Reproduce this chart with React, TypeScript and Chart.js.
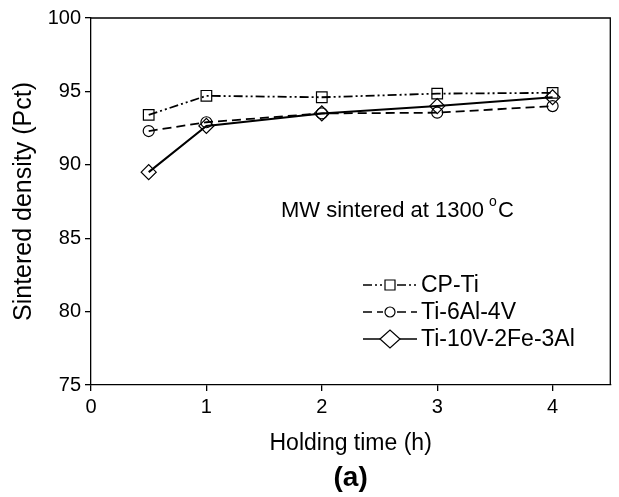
import React, { useEffect, useRef } from "react";
import { Chart, registerables } from "chart.js";

Chart.register(...registerables);

const hours = [0.5, 1, 2, 3, 4];
const cpTi = [93.4, 94.7, 94.6, 94.85, 94.9];
const ti64 = [92.3, 92.9, 93.5, 93.55, 94.0];
const ti1023 = [89.5, 92.65, 93.5, 94.0, 94.6];

const seriesNames = ["CP-Ti", "Ti-6Al-4V", "Ti-10V-2Fe-3Al"];
const xTitle = "Holding time (h)";
const yTitle = "Sintered density (Pct)";
const annotation = "MW sintered at 1300 ";
const panelLabel = "(a)";

const FONT = "'Liberation Sans', Arial, sans-serif";

const dashes = [[9, 3, 2, 3, 2, 3], [9, 5], []];
const shapes = ["rect", "circle", "rectRot"];
const radii = [7.5, 5.5, 7.5];

const decorPlugin = {
  id: "decor",
  afterDraw(chart: any) {
    const { ctx, chartArea } = chart;
    const { left, right, top, bottom } = chartArea;
    ctx.save();
    ctx.strokeStyle = "#000";
    ctx.lineWidth = 1.3;
    ctx.beginPath();
    ctx.moveTo(left, top);
    ctx.lineTo(right, top);
    ctx.lineTo(right, bottom);
    ctx.stroke();

    ctx.fillStyle = "#000";
    // axis titles
    ctx.font = `23px ${FONT}`;
    ctx.textAlign = "center";
    ctx.textBaseline = "middle";
    ctx.fillText(xTitle, (left + right) / 2, 444);
    ctx.save();
    ctx.translate(24, (top + bottom) / 2);
    ctx.rotate(-Math.PI / 2);
    ctx.font = `25px ${FONT}`;
    ctx.fillText(yTitle, 0, 0);
    ctx.restore();

    ctx.font = `bold 28px ${FONT}`;
    ctx.fillText(panelLabel, (left + right) / 2, 478);

    // annotation
    ctx.font = `22px ${FONT}`;
    ctx.textAlign = "left";
    ctx.textBaseline = "middle";
    const ax = 281;
    const ay = 211;
    ctx.fillText(annotation, ax, ay);
    const w = ctx.measureText(annotation).width;
    ctx.font = `14px ${FONT}`;
    ctx.fillText("o", ax + w - 1, ay - 9);
    const ow = ctx.measureText("o").width;
    ctx.font = `22px ${FONT}`;
    ctx.fillText("C", ax + w + ow, ay);

    // legend
    const rows = [285, 312, 339];
    const lx0 = 363;
    const lx1 = 417;
    const mx = 390;
    rows.forEach((ry, i) => {
      ctx.setLineDash(dashes[i]);
      ctx.lineWidth = 1.5;
      ctx.beginPath();
      ctx.moveTo(lx0, ry);
      ctx.lineTo(mx - (i === 2 ? 10 : 7), ry);
      ctx.moveTo(mx + (i === 2 ? 10 : 7), ry);
      ctx.lineTo(lx1, ry);
      ctx.stroke();
      ctx.setLineDash([]);
      ctx.lineWidth = 1.2;
      ctx.beginPath();
      if (i === 0) {
        ctx.rect(mx - 5, ry - 5, 10, 10);
      } else if (i === 1) {
        ctx.arc(mx, ry, 5, 0, Math.PI * 2);
      } else {
        ctx.moveTo(mx - 10, ry);
        ctx.lineTo(mx, ry - 9);
        ctx.lineTo(mx + 10, ry);
        ctx.lineTo(mx, ry + 9);
        ctx.closePath();
      }
      ctx.stroke();
      ctx.font = `23px ${FONT}`;
      ctx.fillText(seriesNames[i], 421, ry + 1);
    });
    ctx.restore();
  },
};

export default function App() {
  const ref = useRef<HTMLCanvasElement>(null);
  useEffect(() => {
    const values = [cpTi, ti64, ti1023];
    const chart = new Chart(ref.current as HTMLCanvasElement, {
      type: "line",
      data: {
        datasets: values.map((vals, i) => ({
          label: seriesNames[i],
          data: hours.map((h, j) => ({ x: h, y: vals[j] })),
          borderColor: "#000",
          backgroundColor: "rgba(0,0,0,0)",
          borderWidth: i === 2 ? 2 : 1.8,
          borderDash: dashes[i],
          pointStyle: shapes[i] as any,
          pointRadius: radii[i],
          pointBorderWidth: 1.2,
          pointBorderColor: "#000",
          pointBackgroundColor: "rgba(0,0,0,0)",
          fill: false,
          tension: 0,
        })),
      },
      options: {
        animation: false,
        responsive: false,
        maintainAspectRatio: false,
        layout: { padding: { top: 18, right: 6, left: 0, bottom: 0 } },
        plugins: { legend: { display: false }, tooltip: { enabled: false } },
        scales: {
          x: {
            type: "linear",
            min: 0,
            max: 4.5,
            afterBuildTicks: (s: any) => {
              s.ticks = s.ticks.filter((t: any) => Number.isInteger(t.value));
            },
            afterFit: (s: any) => {
              s.height = 112;
            },
            ticks: {
              stepSize: 1,
              color: "#000",
              font: { family: FONT, size: 20 },
              padding: 4,
              maxRotation: 0,
            },
            grid: {
              display: true,
              drawOnChartArea: false,
              drawTicks: true,
              tickLength: 6,
              color: "#000",
              lineWidth: 1.3,
            },
            border: { display: true, color: "#000", width: 1.3 },
          },
          y: {
            min: 75,
            max: 100,
            afterFit: (s: any) => {
              s.width = 91;
            },
            ticks: {
              stepSize: 5,
              color: "#000",
              font: { family: FONT, size: 20 },
              padding: 4,
            },
            grid: {
              display: true,
              drawOnChartArea: false,
              drawTicks: true,
              tickLength: 6,
              color: "#000",
              lineWidth: 1.3,
            },
            border: { display: true, color: "#000", width: 1.3 },
          },
        },
      },
      plugins: [decorPlugin],
    });
    return () => chart.destroy();
  }, []);
  return (
    <div style={{ position: "absolute", left: 0, top: 0, width: 619, height: 497, background: "#fff" }}>
      <canvas ref={ref} width={619} height={497} style={{ width: 619, height: 497 }} />
    </div>
  );
}
